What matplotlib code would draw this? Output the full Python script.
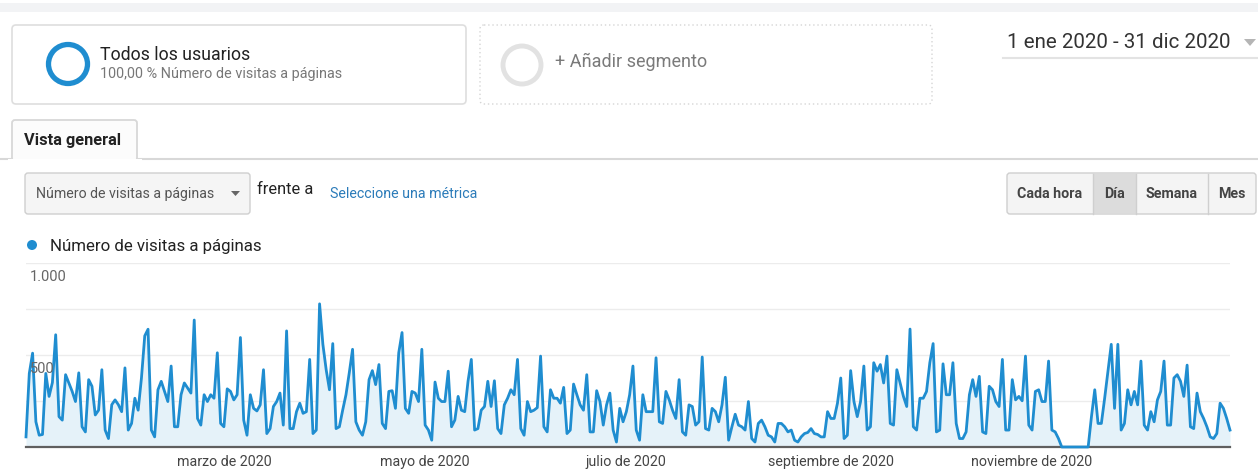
import matplotlib
matplotlib.use("Agg")
import matplotlib.pyplot as plt
from matplotlib.patches import FancyBboxPatch, Circle, Rectangle, Polygon
import pandas as pd

plt.rcParams['font.family'] = ['Roboto', 'DejaVu Sans']

# visitas diarias a páginas, 2020
ene = [55, 400, 510, 137, 64, 68, 400, 275, 350, 610,
       165, 146, 393, 348, 302, 247, 403, 110, 82, 366,
       330, 174, 200, 420, 92, 46, 230, 256, 230, 192, 430]
feb = [92, 128, 265, 200, 375, 604, 640, 92, 55,
       311, 357, 302, 247, 440, 110, 110, 284, 348, 320,
       293, 690, 155, 119, 284, 247, 284, 265, 512, 128]
mar = [110, 316, 302, 256, 284, 595, 146, 64, 284, 210,
       196, 229, 420, 73, 100, 220, 247, 293, 119, 631,
       100, 100, 192, 238, 183, 192, 476, 73, 92, 778, 558]
abr = [420, 311, 562, 100, 110, 200, 284, 403, 531,
       137, 92, 64, 137, 366, 415, 339, 448, 128, 100,
       302, 306, 210, 512, 622, 210, 183, 302, 293, 247, 531]
may = [119, 92, 37, 353, 265, 247, 247, 412, 110,
       146, 275, 200, 192, 357, 476, 92, 100, 200, 220,
       357, 220, 360, 100, 73, 229, 265, 311, 284, 476, 100, 64]
jun = [247, 192, 200, 214, 494, 110, 82, 311,
       265, 265, 238, 324, 73, 92, 342, 284, 229, 200,
       393, 82, 82, 306, 247, 119, 229, 293, 92, 27, 210, 137]
jul = [192, 284, 440, 92, 37, 284, 192, 192,
       192, 485, 137, 128, 302, 256, 200, 155, 366, 82,
       64, 229, 220, 119, 137, 489, 100, 92, 210, 192, 137, 229, 379]
ago = [37, 110, 178, 119, 110, 92, 247, 46, 27, 128,
       146, 110, 64, 55, 27, 128, 128, 110, 82, 92,
       37, 27, 55, 73, 79, 100, 73, 68, 55, 55, 192]
sep = [155, 155, 238, 375, 46, 64,
       415, 247, 165, 247, 440, 92, 110, 458, 412, 448,
       348, 494, 128, 119, 420, 348, 275, 220, 641, 110,
       92, 265, 265, 302]
octu = [458, 562, 82, 92, 452, 284,
        284, 458, 128, 46, 46, 82, 284, 366, 275, 384,
        82, 73, 330, 311, 247, 220, 476, 92, 92, 366,
        256, 275, 251, 494, 119]
nov = [92, 302, 311, 247, 247,
       467, 92, 82, 46, 0, 0, 0, 0, 0, 0,
       0, 0, 0, 165, 311, 128, 128, 265, 412, 558,
       210, 558, 92, 128, 311]
dic = [229, 302, 229, 467, 119,
       92, 192, 137, 256, 302, 467, 119, 119, 375, 393,
       357, 275, 445, 110, 100, 293, 192, 155, 110, 55,
       46, 73, 238, 210, 155, 92]

visitas = ene + feb + mar + abr + may + jun + jul + ago + sep + octu + nov + dic
fechas = pd.date_range('2020-01-01', periods=len(visitas), freq='D')

meses_ticks = ['2020-03-01', '2020-05-01', '2020-07-01', '2020-09-01', '2020-11-01']
meses_labels = ['marzo de 2020', 'mayo de 2020', 'julio de 2020',
                'septiembre de 2020', 'noviembre de 2020']

W, H = 1258, 472
azul = '#1f8dd0'
fig = plt.figure(figsize=(W / 100, H / 100), dpi=100)
fig.patch.set_facecolor('white')

# capa de interfaz en coordenadas de pixel
ui = fig.add_axes([0, 0, 1, 1])
ui.set_xlim(0, W)
ui.set_ylim(H, 0)
ui.axis('off')

ui.add_patch(Rectangle((0, 3), W, 9, color='#f2f3f5', lw=0))

# segmento 1
ui.add_patch(FancyBboxPatch((12, 25), 454, 79, boxstyle='round,pad=0,rounding_size=4',
                            fc='white', ec='#dedede', lw=1.2))
ui.add_patch(Circle((68, 64), 19.5, fill=False, ec=azul, lw=3.8))
ui.text(100, 55, 'Todos los usuarios', fontsize=12.8, color='#222222', va='center')
ui.text(100, 74, '100,00 % Número de visitas a páginas', fontsize=10.4, color='#777777', va='center')

# segmento 2
ui.add_patch(FancyBboxPatch((480, 25), 452, 79, boxstyle='round,pad=0,rounding_size=4',
                            fc='white', ec='#d5d5d5', lw=1.0, ls=(0, (1, 2))))
ui.add_patch(Circle((522, 65), 19, fill=False, ec='#e2e2e2', lw=3.5))
ui.text(555, 62, '+ Añadir segmento', fontsize=13, color='#7a7a7a', va='center')

# rango de fechas
ui.text(1007, 43, '1 ene 2020 - 31 dic 2020', fontsize=14.8, color='#333333', va='center')
ui.add_patch(Polygon([(1244, 39), (1256, 39), (1250, 46)], color='#b5b5b5', lw=0))
ui.plot([1003, W], [58, 58], color='#e3e3e3', lw=1.5)

# pestaña
ui.add_patch(FancyBboxPatch((12, 120), 125, 50, boxstyle='round,pad=0,rounding_size=3',
                            fc='#fcfcfc', ec='#d8d8d8', lw=1.3))
ui.add_patch(Rectangle((8, 159), 134, 15, color='white', lw=0, zorder=3))
ui.plot([0, 12], [158.5, 158.5], color='#d8d8d8', lw=1.5)
ui.plot([137, W], [158.5, 158.5], color='#d8d8d8', lw=1.5)
ui.text(24, 140, 'Vista general', fontsize=11.8, fontweight='bold', color='#222222', va='center')

# selector de métrica
ui.add_patch(FancyBboxPatch((25, 173), 225, 41, boxstyle='round,pad=0,rounding_size=3',
                            fc='#f5f5f5', ec='#cfcfcf', lw=1.0, zorder=4))
ui.text(36, 194, 'Número de visitas a páginas', fontsize=10.2, color='#555555', va='center', zorder=5)
ui.add_patch(Polygon([(231, 191), (240, 191), (235.5, 196)], color='#666666', lw=0, zorder=5))
ui.text(257, 190, 'frente a', fontsize=11.8, color='#222222', va='center')
ui.text(330, 194, 'Seleccione una métrica', fontsize=10.3, color='#2b7bb9', va='center')

# botones de periodo
botones = [('Cada hora', 1007, 1093), ('Día', 1093, 1136), ('Semana', 1136, 1208), ('Mes', 1208, 1256)]
ui.add_patch(FancyBboxPatch((1007, 173), 249, 41, boxstyle='round,pad=0,rounding_size=3',
                            fc='#f4f4f4', ec='#cfcfcf', lw=1.0, zorder=4))
ui.add_patch(Rectangle((1093, 174), 43, 39, color='#dcdcdc', lw=0, zorder=4))
for nombre, x0, x1 in botones:
    ui.text((x0 + x1) / 2, 194, nombre, fontsize=10.3, fontweight='bold', color='#444444',
            ha='center', va='center', zorder=6)
    if x0 > 1007:
        ui.plot([x0, x0], [173.5, 213.5], color='#cfcfcf', lw=1.0, zorder=5)

# leyenda
ui.add_patch(Circle((32, 245), 5, color=azul, lw=0))
ui.text(50, 246, 'Número de visitas a páginas', fontsize=12.2, color='#222222', va='center')

# gráfico
ax = fig.add_axes([26 / W, (H - 447) / H, (1230 - 26) / W, (447 - 263) / H])
ax.patch.set_alpha(0)
ax.fill_between(fechas, visitas, color='#e5f2f9', lw=0, zorder=1)
ax.plot(fechas, visitas, color=azul, lw=2.0, zorder=5, clip_on=False)
ax.set_xlim(fechas[0], fechas[-1])
ax.set_ylim(0, 1000)
ax.set_yticks([250, 500, 750, 1000])
ax.yaxis.grid(True, color='#ececec', lw=1.0)
ax.set_axisbelow(True)
ax.axhline(0, color='#5f5f5f', lw=1.6, zorder=4, clip_on=False)
for s in ax.spines.values():
    s.set_visible(False)
ax.tick_params(axis='y', length=0, labelleft=False)
ax.set_xticks(pd.to_datetime(meses_ticks))
ax.set_xticklabels(meses_labels, fontsize=10.3, color='#444444')
ax.tick_params(axis='x', length=0, pad=6)
for v, txt in [(1000, '1.000'), (500, '500')]:
    ax.annotate(txt, (0, v), xycoords=('axes fraction', 'data'), xytext=(3, -5),
                textcoords='offset points', fontsize=10.5, color='#666666', va='top', zorder=6)

fig.savefig('out.png', dpi=100)
